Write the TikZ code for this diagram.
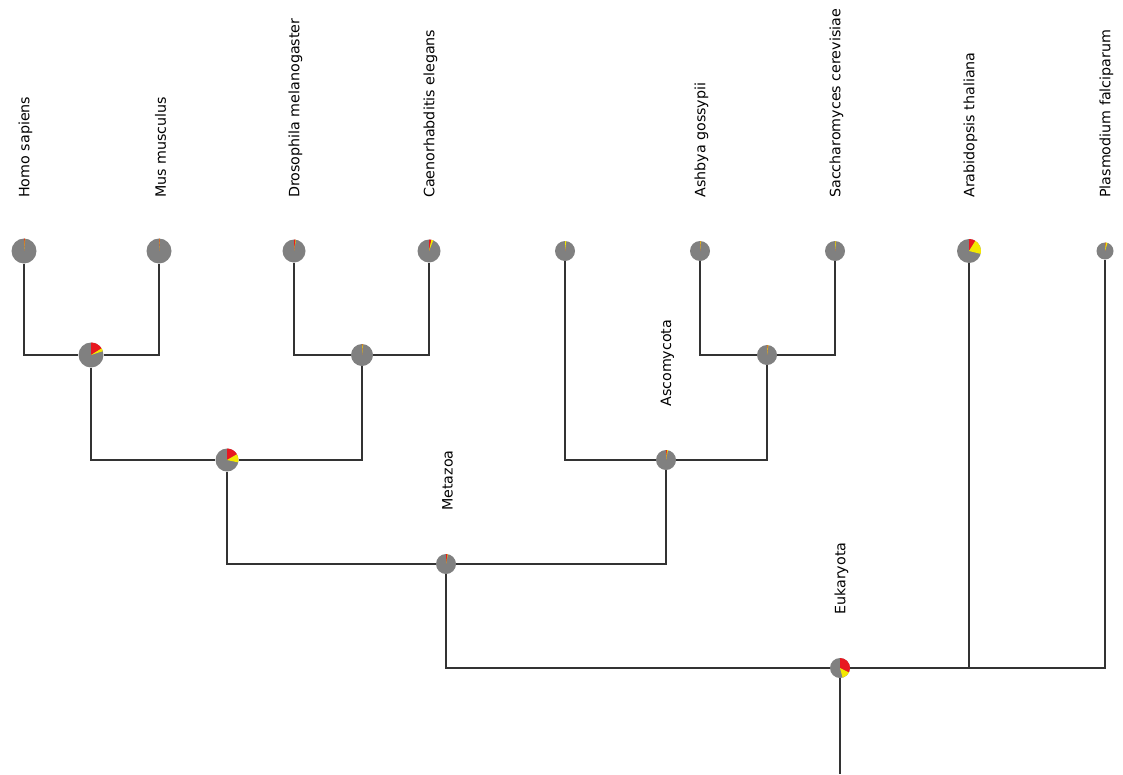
\documentclass[tikz,border=0pt]{standalone}
\usepackage{fontspec}
\setmainfont{DejaVu Sans}
\definecolor{pgray}{RGB}{128,128,128}
\definecolor{pred}{RGB}{232,24,32}
\definecolor{pyellow}{RGB}{244,232,0}
% red and yellow wedges on a pie node: name, radius, red degrees, yellow degrees
\newcommand{\wedges}[4]{%
  \fill[pred] (#1.center) -- ++(-90:#2) arc[start angle=-90,end angle={-90+#3},radius=#2] -- cycle;
  \fill[pyellow] (#1.center) -- ++({-90+#3}:#2) arc[start angle={-90+#3},end angle={-90+#3+#4},radius=#2] -- cycle;}

\begin{document}
\begin{tikzpicture}[x=0.75pt,y=0.75pt,yscale=-1,xscale=1,
  pienode/.style={circle,fill=pgray,inner sep=0pt,minimum size=1.5pt*#1},
  branch/.style={draw=black!80,line width=0.9pt},
  taxon/.style={rotate=90,anchor=west,inner sep=0pt,font=\fontsize{10.7}{13}\selectfont}]
\path (0,0) rectangle (1123,774); %page size

%Leaves
\node[pienode=12.5] (homo) at (24,251) {};
\node[pienode=12.5] (mus) at (159,251) {};
\node[pienode=11.5] (droso) at (294,251) {};
\node[pienode=11.5] (caeno) at (429,251) {};
\node[pienode=10] (fung) at (565,251) {};
\node[pienode=10] (ashbya) at (700,251) {};
\node[pienode=10] (sacch) at (835,251) {};
\node[pienode=12] (arab) at (969,251) {};
\node[pienode=8.5] (plasmo) at (1105,251) {};

%Inner nodes
\node[pienode=12.5] (hm) at (91,355) {};
\node[pienode=11] (dc) at (362,355) {};
\node[pienode=10] (asac) at (767,355) {};
\node[pienode=11.5] (bilat) at (227,460) {};
\node[pienode=10] (asco) at (666,460) {};
\node[pienode=10] (meta) at (446,564) {};
\node[pienode=10] (euk) at (840,668) {};
\coordinate (root) at (840,774);

%Branches
\draw[branch] (homo) |- (hm) -| (mus);
\draw[branch] (droso) |- (dc) -| (caeno);
\draw[branch] (ashbya) |- (asac) -| (sacch);
\draw[branch] (hm) |- (bilat) -| (dc);
\draw[branch] (fung) |- (asco) -| (asac);
\draw[branch] (bilat) |- (meta) -| (asco);
\draw[branch] (meta) |- (euk) -| (plasmo);
\draw[branch] (arab) -- (arab |- euk);
\draw[branch] (euk) -- (root);

%Pie wedges
\wedges{homo}{12.5}{4}{2}
\wedges{mus}{12.5}{3}{1}
\wedges{droso}{11.5}{8}{2}
\wedges{caeno}{11.5}{12}{10}
\wedges{fung}{10}{1}{6}
\wedges{ashbya}{10}{3}{3}
\wedges{sacch}{10}{2}{4}
\wedges{arab}{12}{32}{72}
\wedges{plasmo}{8.5}{5}{12}
\wedges{hm}{12.5}{58}{14}
\wedges{dc}{11}{3}{3}
\wedges{asac}{10}{4}{4}
\wedges{bilat}{11.5}{60}{42}
\wedges{asco}{10}{6}{5}
\wedges{meta}{10}{9}{2}
\wedges{euk}{10}{117}{48}

% Text Node
\node[taxon] (homoL) at (25.5,198) {Homo sapiens};
\node[taxon] (musL) at (160.5,198) {Mus musculus};
\node[taxon] (drosoL) at (295.5,198) {Drosophila melanogaster};
\node[taxon] (caenoL) at (430.5,198) {Caenorhabditis elegans};
\node[taxon] (ashbyaL) at (701.5,198) {Ashbya gossypii};
\node[taxon] (sacchL) at (836.5,198) {Saccharomyces cerevisiae};
\node[taxon] (arabL) at (970.5,198) {Arabidopsis thaliana};
\node[taxon] (plasmoL) at (1106.5,198) {Plasmodium falciparum};
\node[taxon] (ascoL) at (667.5,407) {Ascomycota};
\node[taxon] (metaL) at (447.5,511) {Metazoa};
\node[taxon] (eukL) at (841.5,615) {Eukaryota};

\end{tikzpicture}
\end{document}
